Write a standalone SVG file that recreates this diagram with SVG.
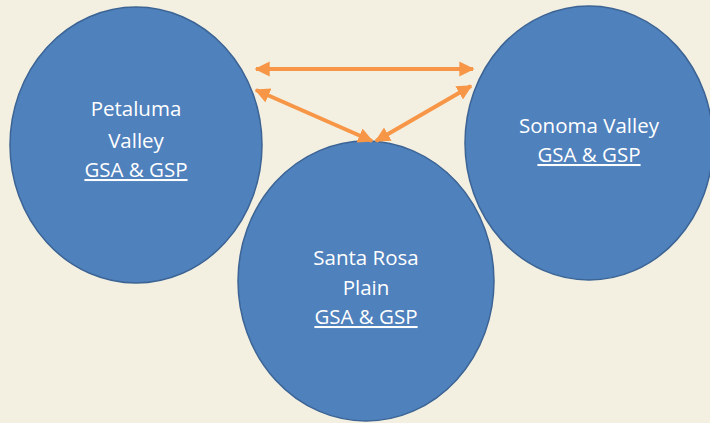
<svg xmlns="http://www.w3.org/2000/svg" width="710" height="423" viewBox="0 0 710 423">
<defs>
<marker id="ah" viewBox="0 0 10 10" refX="9" refY="5" markerWidth="3.8" markerHeight="3.8" orient="auto-start-reverse" markerUnits="strokeWidth">
<path d="M0,0 L10,5 L0,10 Z" fill="#F79646"/>
</marker>
</defs>
<style>
.node{fill:#4F81BD;stroke:#3C6494;stroke-width:1.5}
.t{font-family:"Open Sans","Liberation Sans",Arial,sans-serif;font-size:20.5px;fill:#FFFFFF;text-anchor:middle}
.u{text-decoration:underline}
.c{stroke:#F79646;stroke-width:4;fill:none;marker-start:url(#ah);marker-end:url(#ah)}
</style>
<rect width="710" height="423" fill="#F3F0E2"/>
<g id="petaluma">
<ellipse class="node" cx="136" cy="145" rx="126" ry="138"/>
<text class="t" x="136" y="116">Petaluma</text>
<text class="t" x="136" y="148">Valley</text>
<text class="t u" x="136" y="177">GSA &amp; GSP</text>
</g>
<g id="sonoma">
<ellipse class="node" cx="589" cy="143" rx="124" ry="137"/>
<text class="t" x="589" y="133">Sonoma Valley</text>
<text class="t u" x="589" y="162">GSA &amp; GSP</text>
</g>
<g id="santarosa">
<ellipse class="node" cx="366" cy="281" rx="128" ry="140"/>
<text class="t" x="366" y="265">Santa Rosa</text>
<text class="t" x="366" y="295">Plain</text>
<text class="t u" x="366" y="324">GSA &amp; GSP</text>
</g>
<g id="connectors">
<line class="c" x1="256" y1="69" x2="473" y2="69"/>
<line class="c" x1="256" y1="90" x2="372" y2="141"/>
<line class="c" x1="471" y1="86" x2="376" y2="141"/>
</g>
</svg>
